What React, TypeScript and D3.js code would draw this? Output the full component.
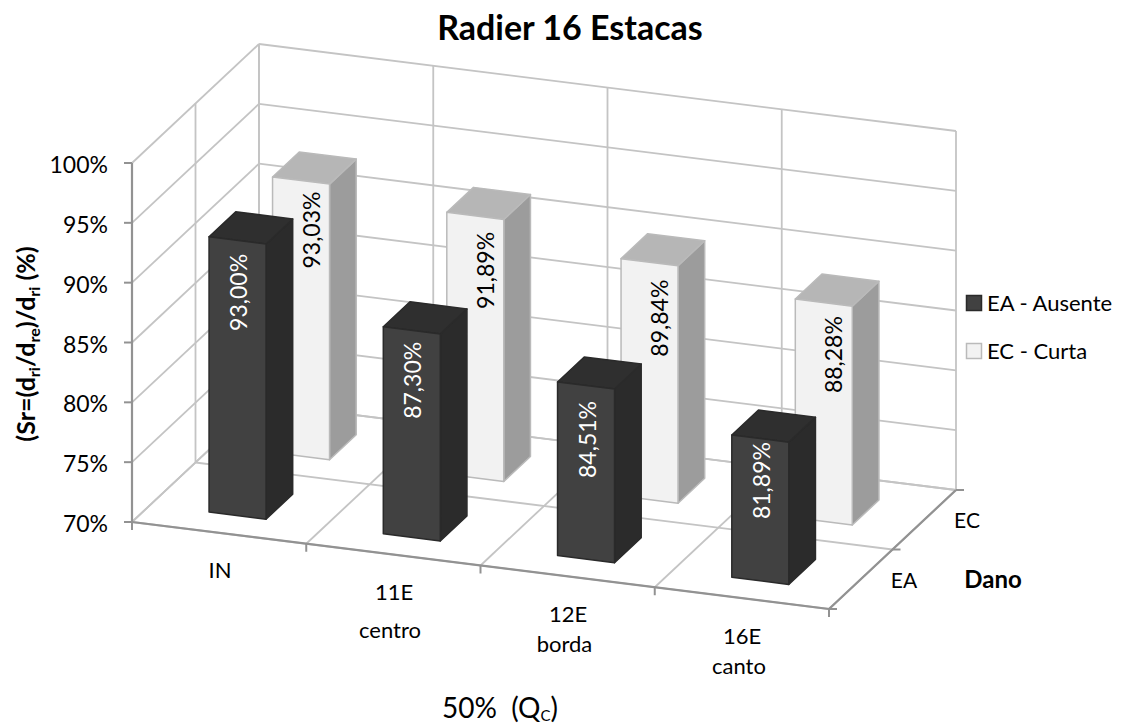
import React from "react";
import * as d3 from "d3";

const categories = ["IN", "11E", "12E", "16E"];
const subLabels = ["", "centro", "borda", "canto"];
const depthLabels = ["EA", "EC"];
const legendNames = ["EA - Ausente", "EC - Curta"];
const valuesEA = [93.0, 87.3, 84.51, 81.89];
const valuesEC = [93.03, 91.89, 89.84, 88.28];
const labelsEA = ["93,00%", "87,30%", "84,51%", "81,89%"];
const labelsEC = ["93,03%", "91,89%", "89,84%", "88,28%"];
const yTicks = [70, 75, 80, 85, 90, 95, 100];

const W = 1128, H = 726;
const FONT = "Lato, 'Open Sans', sans-serif";
const GRID = "#c4c4c4", AXIS = "#929292";

// oblique projection of (category, depth, value)
const uX = d3.scaleLinear().domain([0, 4]).range([0, 697]);
const uY = d3.scaleLinear().domain([0, 4]).range([0, 87]);
const vX = d3.scaleLinear().domain([0, 2]).range([0, 127]);
const vY = d3.scaleLinear().domain([0, 2]).range([0, -119]);
const hY = d3.scaleLinear().domain([70, 100]).range([0, -359]);
const P = (u: number, v: number, val: number): [number, number] => [
  132 + uX(u) + vX(v),
  522 + uY(u) + vY(v) + hY(val),
];
const line = d3.line();
const poly = (pts: [number, number][]) => line(pts)! + "Z";

const barW = 0.327, barD = 0.42;
// hand placement of the data labels relative to the top of each front face
const labelDyEA = [52, 50, 54, 42];
const labelDyEC = [49.5, 54.5, 56, 52];
const labelDxEA = 1.5;
const labelDxEC = 10.5;

function Bar({ cat, depth, value, label, dark, dx, dy }: any) {
  const u0 = cat + 0.5 - barW / 2, u1 = u0 + barW;
  const v0 = depth + 0.29, v1 = v0 + barD;
  const face = dark ? "#414141" : "#f2f2f2";
  const side = dark ? "#2b2b2b" : "#9c9c9c";
  const top = dark ? "#2f2f2f" : "#b6b6b6";
  const stroke = dark ? "#2a2a2a" : "#bababa";
  const mid = P((u0 + u1) / 2, v0, value);
  return (
    <g stroke={stroke} strokeWidth={1.5} strokeLinejoin="round">
      <path d={poly([P(u1, v0, 70), P(u1, v1, 70), P(u1, v1, value), P(u1, v0, value)])} fill={side} />
      <path d={poly([P(u0, v0, value), P(u1, v0, value), P(u1, v1, value), P(u0, v1, value)])} fill={top} />
      <path d={poly([P(u0, v0, 70), P(u1, v0, 70), P(u1, v0, value), P(u0, v0, value)])} fill={face} />
      <text
        transform={`translate(${mid[0] + dx},${mid[1] + dy}) rotate(-90)`}
        textAnchor="middle"
        dy="0.35em"
        fontSize={23}
        fill={dark ? "#ffffff" : "#000000"}
        stroke="none"
        fontFamily={FONT}
      >
        {label}
      </text>
    </g>
  );
}

export default function App() {
  const seg = (a: [number, number], b: [number, number], c: string, w: number, k: string) => (
    <line key={k} x1={a[0]} y1={a[1]} x2={b[0]} y2={b[1]} stroke={c} strokeWidth={w} />
  );
  const G = 1.8;
  return (
    <svg width={W} height={H} style={{ position: "absolute", left: 0, top: 0, background: "#fff" }} fontFamily={FONT}>
      {/* gridlines */}
      {yTicks.map((t) => (
        <g key={t}>
          {seg(P(0, 0, t), P(0, 2, t), GRID, G, "a")}
          {seg(P(0, 2, t), P(4, 2, t), GRID, G, "b")}
        </g>
      ))}
      {d3.range(0, 5).map((i) => seg(P(i, 2, 70), P(i, 2, 100), GRID, G, "bv" + i))}
      {d3.range(0, 5).map((i) => seg(P(i, 0, 70), P(i, 2, 70), GRID, G, "fu" + i))}
      {d3.range(0, 3).map((j) => seg(P(0, j, 70), P(4, j, 70), GRID, G, "fv" + j))}
      {d3.range(0, 3).map((j) => seg(P(0, j, 70), P(0, j, 100), GRID, G, "sv" + j))}

      {/* axes */}
      {seg(P(0, 0, 70), P(0, 0, 100), AXIS, 2.2, "ay")}
      {seg(P(0, 0, 70), P(4, 0, 70), AXIS, 2.2, "ax")}
      {seg(P(4, 0, 70), P(4, 2, 70), AXIS, 2.2, "az")}
      {yTicks.map((t) => {
        const p = P(0, 0, t);
        return seg([p[0] - 8, p[1]], p, AXIS, 2, "ty" + t);
      })}
      {d3.range(0, 5).map((i) => {
        const p = P(i, 0, 70);
        return seg(p, [p[0], p[1] + 8], AXIS, 2, "tx" + i);
      })}
      {d3.range(0, 3).map((j) => {
        const p = P(4, j, 70);
        return seg(p, [p[0] + 8, p[1]], AXIS, 2, "tz" + j);
      })}

      {/* bars, back row first */}
      {valuesEC.map((v, i) => (
        <Bar key={"c" + i} cat={i} depth={1} value={v} label={labelsEC[i]} dark={false} dx={labelDxEC} dy={labelDyEC[i]} />
      ))}
      {valuesEA.map((v, i) => (
        <Bar key={"a" + i} cat={i} depth={0} value={v} label={labelsEA[i]} dark dx={labelDxEA} dy={labelDyEA[i]} />
      ))}

      {/* y tick labels */}
      {yTicks.map((t) => {
        const p = P(0, 0, t);
        return (
          <text key={t} x={108} y={p[1] + 2} dy="0.35em" textAnchor="end" fontSize={23} fill="#000">
            {t}%
          </text>
        );
      })}

      {/* category labels */}
      {categories.map((c, i) => (
        <text key={c} x={[220, 394, 568, 742][i]} y={[570, 592, 614, 636][i]} dy="0.35em" textAnchor="middle" fontSize={22} fill="#000">
          {c}
        </text>
      ))}
      {subLabels.map((c, i) =>
        c ? (
          <text key={c} x={[0, 390, 564.5, 739][i]} y={[0, 630, 644, 666][i]} dy="0.35em" textAnchor="middle" fontSize={22} fill="#000">
            {c}
          </text>
        ) : null
      )}
      {depthLabels.map((c, i) => (
        <text key={c} x={[904, 967][i]} y={[581, 521][i]} dy="0.35em" textAnchor="middle" fontSize={21} fill="#000">
          {c}
        </text>
      ))}
      <text x={993} y={580} dy="0.35em" textAnchor="middle" fontSize={24} fontWeight="bold" fill="#000">Dano</text>

      {/* title */}
      <text x={570} y={28} dy="0.35em" textAnchor="middle" fontSize={34} fontWeight="bold" fill="#000">Radier 16 Estacas</text>

      {/* y axis title */}
      <text transform="translate(35,344) rotate(-90)" textAnchor="middle" fontSize={25} fontWeight="bold" fill="#000">
        (Sr=(d<tspan fontSize={16} dy={5}>ri</tspan>
        <tspan dy={-5}>/d</tspan><tspan fontSize={16} dy={5}>re</tspan>
        <tspan dy={-5}>)/d</tspan><tspan fontSize={16} dy={5}>ri</tspan>
        <tspan dy={-5}>{"\u00a0(%)"}</tspan>
      </text>

      {/* x caption */}
      <text x={500} y={708} dy="0.35em" textAnchor="middle" fontSize={28} fill="#000">
        {"50%\u00a0\u00a0(Q"}<tspan fontSize={15} dy={3}>C</tspan><tspan dy={-3}>)</tspan>
      </text>

      {/* legend */}
      {legendNames.map((n, i) => {
        const y = [303, 351][i];
        return (
          <g key={n}>
            <rect x={966.5} y={y - 7.5} width={15} height={15} fill={i === 0 ? "#414141" : "#f2f2f2"} stroke={i === 0 ? "#2a2a2a" : "#bababa"} strokeWidth={1.5} />
            <text x={987} y={y} dy="0.35em" fontSize={22} fill="#000">{n}</text>
          </g>
        );
      })}
    </svg>
  );
}
